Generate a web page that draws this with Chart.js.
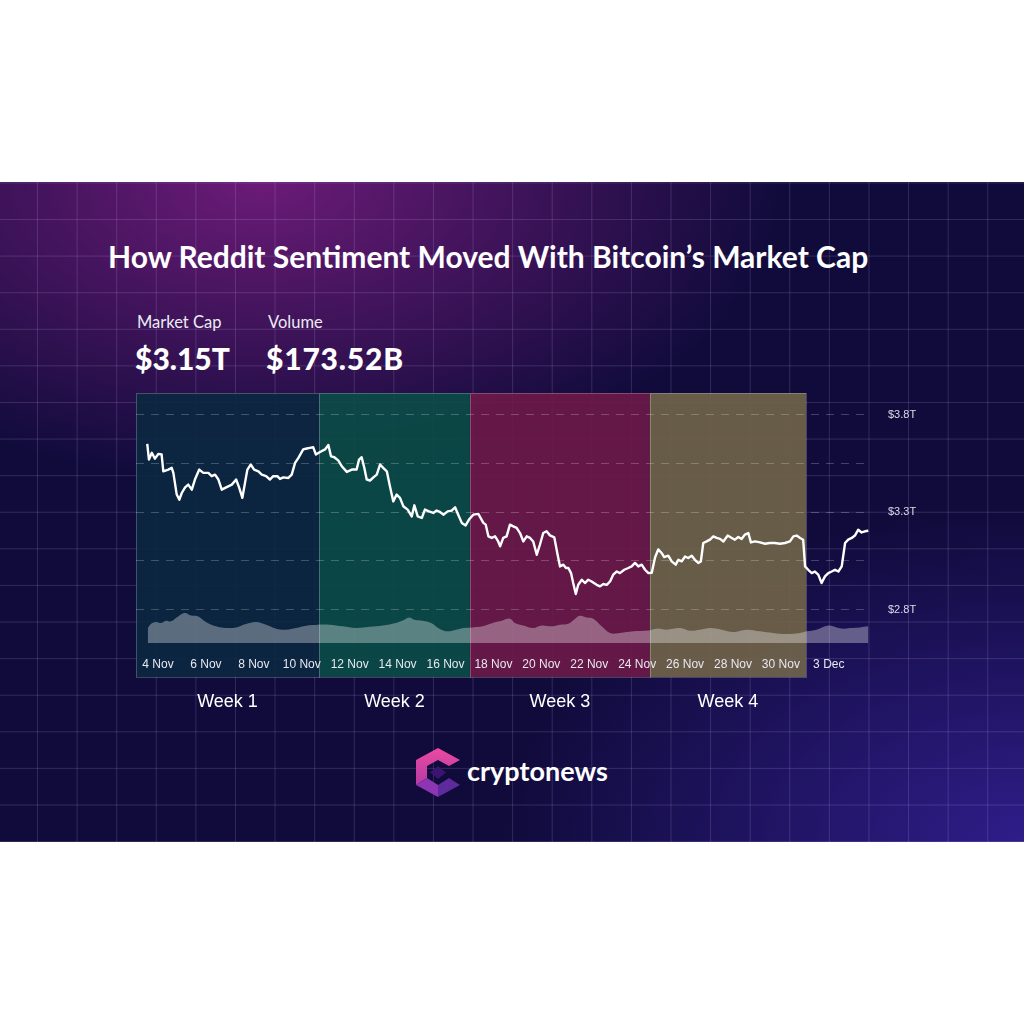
<!DOCTYPE html>
<html>
<head>
<meta charset="utf-8">
<script src="https://cdn.jsdelivr.net/npm/chart.js@4.4.1/dist/chart.umd.min.js"></script>
<style>
  body { margin: 0; width: 1024px; height: 1024px; background: #fff; position: relative; overflow: hidden; }
  #card {
    position: absolute; left: 0; top: 182px; width: 1024px; height: 660px;
    background:
      linear-gradient(to right, rgba(215,195,255,0.16) 1px, transparent 1px) 37px 0 / 39.6px 100%,
      linear-gradient(to bottom, rgba(215,195,255,0.16) 1px, transparent 1px) 0 37px / 100% 36.6px,
      radial-gradient(ellipse 520px 300px at 260px 0px, rgba(112,28,122,0.95), rgba(112,28,122,0) 100%),
      radial-gradient(ellipse 520px 330px at 1024px 660px, rgba(52,32,150,0.85), rgba(52,32,150,0) 100%),
      #110b3c;
  }
  .txt { position: absolute; color: #fff; line-height: 1; white-space: nowrap; font-family: Lato, "Open Sans", sans-serif; }
  #title { left: 108px; top: 241px; font-size: 30px; font-weight: 700; }
  .lbl { font-size: 16.5px; color: #ecebf3; top: 314px; }
  .big { font-size: 30px; font-weight: 900; top: 343px; }
  #logoText { left: 467px; top: 757px; font-size: 27px; font-weight: 700; }
  #logo { position: absolute; left: 410px; top: 744px; }
  #c { position: absolute; left: 0; top: 383px; }
</style>
</head>
<body>
<div id="card"></div>
<div id="title" class="txt">How Reddit Sentiment Moved With Bitcoin’s Market Cap</div>
<div class="txt lbl" style="left:137px">Market Cap</div>
<div class="txt lbl" style="left:268px">Volume</div>
<div class="txt big" style="left:135px">$3.15T</div>
<div class="txt big" style="left:266px; letter-spacing:0.8px">$173.52B</div>
<svg id="logo" width="56" height="58" viewBox="0 0 56 58">
  <defs>
    <linearGradient id="pk" x1="0" y1="0" x2="0" y2="1">
      <stop offset="0" stop-color="#ec4aa0"/>
      <stop offset="1" stop-color="#b53aa6"/>
    </linearGradient>
  </defs>
  <polygon points="28,4 50,16 39,22 28,16 17,22 17,34 6,41 6,16" fill="url(#pk)"/>
  <polygon points="6,41 17,34 28,41 28,53" fill="#8c36b4"/>
  <polygon points="28,53 28,41 39,34 50,41" fill="#5e2a9c"/>
  <polygon points="28,22 36,28.5 28,35 20,28.5" fill="#3a1470"/>
</svg>
<div id="logoText" class="txt">cryptonews</div>
<canvas id="c" width="1024" height="340"></canvas>
<script>
// market cap line, x = day of November (Dec 1 = 31), y = trillions USD
const lineDays = [
  3.55,3.62,3.74,3.87,4.01,4.15,4.22,4.43,4.57,4.64,
  4.78,4.89,4.99,5.13,5.26,5.41,5.54,5.72,5.89,6.10,
  6.24,6.38,6.52,6.66,6.80,6.93,7.08,7.26,7.39,7.52,
  7.63,7.73,7.87,8.01,8.19,8.33,8.51,8.67,8.81,8.98,
  9.09,9.23,9.44,9.58,9.72,9.86,10.06,10.21,10.34,10.48,
  10.59,10.76,10.97,11.11,11.22,11.36,11.53,11.67,11.88,12.09,
  12.29,12.39,12.50,12.61,12.71,12.85,12.99,13.13,13.27,13.40,
  13.55,13.68,13.82,13.96,14.10,14.24,14.42,14.59,14.70,14.84,
  15.01,15.14,15.31,15.49,15.63,15.77,15.91,16.09,16.26,16.40,
  16.53,16.68,16.84,16.98,17.16,17.37,17.58,17.68,17.79,17.93,
  18.07,18.20,18.28,18.41,18.55,18.69,18.83,18.97,19.11,19.25,
  19.39,19.53,19.66,19.81,19.94,20.08,20.22,20.36,20.54,20.68,
  20.78,20.92,21.03,21.13,21.24,21.33,21.44,21.54,21.69,21.82,
  21.96,22.10,22.31,22.45,22.59,22.73,22.87,23.00,23.15,23.28,
  23.46,23.63,23.77,23.91,24.05,24.19,24.33,24.47,24.61,24.75,
  24.88,25.02,25.13,25.30,25.44,25.61,25.72,25.86,26.00,26.13,
  26.28,26.41,26.55,26.66,26.76,26.90,27.04,27.18,27.32,27.46,
  27.60,27.78,27.95,28.08,28.22,28.36,28.50,28.64,28.75,28.92,
  29.13,29.34,29.54,29.75,29.96,30.17,30.38,30.52,30.66,30.80,
  30.93,31.01,31.14,31.29,31.42,31.56,31.70,31.84,31.98,32.12,
  32.26,32.40,32.54,32.68,32.81,32.96,33.09,33.23,33.37,33.51,33.65
];
const marketCap = [
  3.650,3.569,3.604,3.574,3.598,3.595,3.509,3.518,3.527,3.501,
  3.390,3.364,3.398,3.427,3.441,3.415,3.467,3.518,3.501,3.501,
  3.484,3.492,3.467,3.415,3.424,3.432,3.441,3.467,3.424,3.373,
  3.450,3.518,3.544,3.518,3.509,3.492,3.484,3.467,3.484,3.484,
  3.470,3.478,3.475,3.492,3.552,3.578,3.621,3.626,3.629,3.632,
  3.595,3.608,3.621,3.644,3.586,3.581,3.564,3.535,3.506,3.518,
  3.518,3.569,3.581,3.527,3.467,3.462,3.478,3.492,3.544,3.527,
  3.509,3.432,3.355,3.390,3.373,3.330,3.313,3.278,3.335,3.278,
  3.270,3.313,3.304,3.296,3.308,3.301,3.287,3.304,3.308,3.325,
  3.287,3.245,3.232,3.262,3.287,3.291,3.245,3.236,3.176,3.168,
  3.176,3.150,3.125,3.168,3.176,3.236,3.227,3.219,3.193,3.150,
  3.176,3.168,3.150,3.082,3.133,3.193,3.202,3.181,3.171,3.082,
  3.022,3.031,3.014,3.014,2.988,2.937,2.881,2.928,2.954,2.937,
  2.954,2.945,2.928,2.920,2.932,2.928,2.945,2.980,2.996,2.988,
  3.005,3.014,3.022,3.040,3.022,3.031,3.005,2.988,2.990,3.069,
  3.109,3.091,3.070,3.077,3.048,3.031,3.056,3.048,3.073,3.065,
  3.077,3.056,3.040,3.048,3.142,3.150,3.159,3.176,3.168,3.163,
  3.150,3.180,3.168,3.159,3.173,3.163,3.185,3.193,3.145,3.150,
  3.145,3.138,3.142,3.142,3.138,3.142,3.150,3.176,3.180,3.168,
  3.159,3.022,3.005,2.988,2.996,2.980,2.937,2.971,2.988,2.996,
  3.005,2.996,3.022,3.142,3.159,3.168,3.180,3.210,3.196,3.202,3.205
];

// trading volume (billions USD)
const volDays = [
  3.57,3.71,3.92,4.13,4.33,4.54,4.75,5.10,5.38,5.66,
  6.00,6.42,6.84,7.26,7.67,8.09,8.51,8.93,9.34,9.76,
  10.18,10.67,11.15,11.71,12.26,12.82,13.38,13.93,14.28,14.49,
  14.70,15.05,15.40,15.74,16.09,16.44,16.78,17.14,17.55,17.83,
  18.11,18.28,18.69,18.90,19.25,19.66,20.02,20.43,20.78,21.13,
  21.41,21.61,21.89,22.17,22.52,22.87,23.28,23.84,24.47,24.82,
  25.23,25.79,26.21,26.62,27.04,27.53,28.01,28.57,29.13,29.68,
  30.24,30.80,31.08,31.49,31.98,32.33,32.61,32.88,33.30,33.65
];
const volume = [
  72,93,101,96,107,104,120,144,132,128,
  101,80,72,75,91,101,88,69,64,72,
  83,88,88,80,72,78,84,96,112,123,
  112,107,96,69,56,64,72,75,80,91,
  101,104,117,96,84,72,84,80,88,93,
  117,131,123,117,80,48,48,56,60,69,
  64,72,59,64,72,64,53,64,56,48,
  43,48,56,64,84,75,69,72,75,80
];

const tickDays = [4, 6, 8, 10, 12, 14, 16, 18, 20, 22, 24, 26, 28, 30, 32];
const tickLabels = ['4 Nov', '6 Nov', '8 Nov', '10 Nov', '12 Nov', '14 Nov', '16 Nov', '18 Nov',
  '20 Nov', '22 Nov', '24 Nov', '26 Nov', '28 Nov', '30 Nov', '3 Dec'];
const yTickValues = [2.8, 3.05, 3.3, 3.55, 3.8];
const yTickLabels = ['$2.8T', '', '$3.3T', '', '$3.8T'];

const weekEdges = [3.08, 10.72, 17.02, 24.53, 31.05];
const weekLabels = ['Week 1', 'Week 2', 'Week 3', 'Week 4'];
const weekColors = ['rgba(11,40,64,0.9)', 'rgba(10,76,70,0.9)', 'rgba(110,26,72,0.9)', 'rgba(113,101,73,0.9)'];

// coloured week panels behind the grid, labels underneath
const weekBands = {
  id: 'weekBands',
  beforeDraw(chart) {
    const { ctx, chartArea, scales } = chart;
    const top = chartArea.top, bottom = chartArea.bottom + 34;
    ctx.save();
    for (let i = 0; i < weekLabels.length; i++) {
      const x0 = scales.x.getPixelForValue(weekEdges[i]);
      const x1 = scales.x.getPixelForValue(weekEdges[i + 1]);
      ctx.fillStyle = weekColors[i];
      ctx.fillRect(x0, top, x1 - x0, bottom - top);
      ctx.strokeStyle = 'rgba(255,255,255,0.22)';
      ctx.lineWidth = 1;
      ctx.strokeRect(Math.round(x0) + 0.5, top + 0.5, Math.round(x1 - x0), bottom - top);
    }
    ctx.restore();
  },
  afterDraw(chart) {
    const { ctx, chartArea, scales } = chart;
    ctx.save();
    ctx.fillStyle = '#ffffff';
    ctx.font = '18px "Liberation Sans", Arial, sans-serif';
    ctx.textAlign = 'center';
    ctx.textBaseline = 'middle';
    for (let i = 0; i < weekLabels.length; i++) {
      const x0 = scales.x.getPixelForValue(weekEdges[i]);
      const x1 = scales.x.getPixelForValue(weekEdges[i + 1]);
      ctx.fillText(weekLabels[i], (x0 + x1) / 2, chartArea.bottom + 59);
    }
    ctx.restore();
  }
};

new Chart(document.getElementById('c'), {
  type: 'line',
  data: {
    datasets: [{
      data: lineDays.map((d, i) => ({ x: d, y: marketCap[i] })),
      yAxisID: 'y',
      borderColor: '#ffffff',
      borderWidth: 2.4,
      borderJoinStyle: 'round',
      pointRadius: 0,
      tension: 0,
      order: 0
    }, {
      data: volDays.map((d, i) => ({ x: d, y: volume[i] })),
      yAxisID: 'y2',
      fill: 'origin',
      backgroundColor: 'rgba(255,255,255,0.33)',
      borderWidth: 0,
      pointRadius: 0,
      tension: 0.4,
      order: 1
    }]
  },
  options: {
    responsive: false,
    animation: false,
    devicePixelRatio: 1,
    layout: { padding: { left: 136, right: 94, top: 10, bottom: 46 } },
    plugins: { legend: { display: false }, tooltip: { enabled: false } },
    scales: {
      x: {
        type: 'linear',
        min: 3.08,
        max: 33.72,
        grid: { display: false, drawTicks: false },
        border: { display: false },
        afterBuildTicks: s => { s.ticks = tickDays.map(v => ({ value: v })); },
        afterFit: s => { s.height = 34; s.paddingLeft = 0; s.paddingRight = 0; },
        ticks: {
          autoSkip: false,
          maxRotation: 0,
          padding: 14,
          color: '#e8e8f0',
          font: { family: '"Liberation Sans", Arial, sans-serif', size: 12 },
          callback: (v, i) => tickLabels[i]
        }
      },
      y: {
        position: 'right',
        min: 2.63,
        max: 3.91,
        grid: { color: 'rgba(255,255,255,0.22)', drawTicks: false, borderDash: [8, 7] },
        border: { display: false, dash: [8, 7] },
        afterBuildTicks: s => { s.ticks = yTickValues.map(v => ({ value: v })); },
        afterFit: s => { s.width = 60; s.paddingTop = 0; s.paddingBottom = 0; },
        ticks: {
          padding: 18,
          color: '#dcdae8',
          font: { family: '"Liberation Sans", Arial, sans-serif', size: 11 },
          callback: (v, i) => yTickLabels[i]
        }
      },
      y2: { display: false, min: 0, max: 1200 }
    }
  },
  plugins: [weekBands]
});
</script>
</body>
</html>
